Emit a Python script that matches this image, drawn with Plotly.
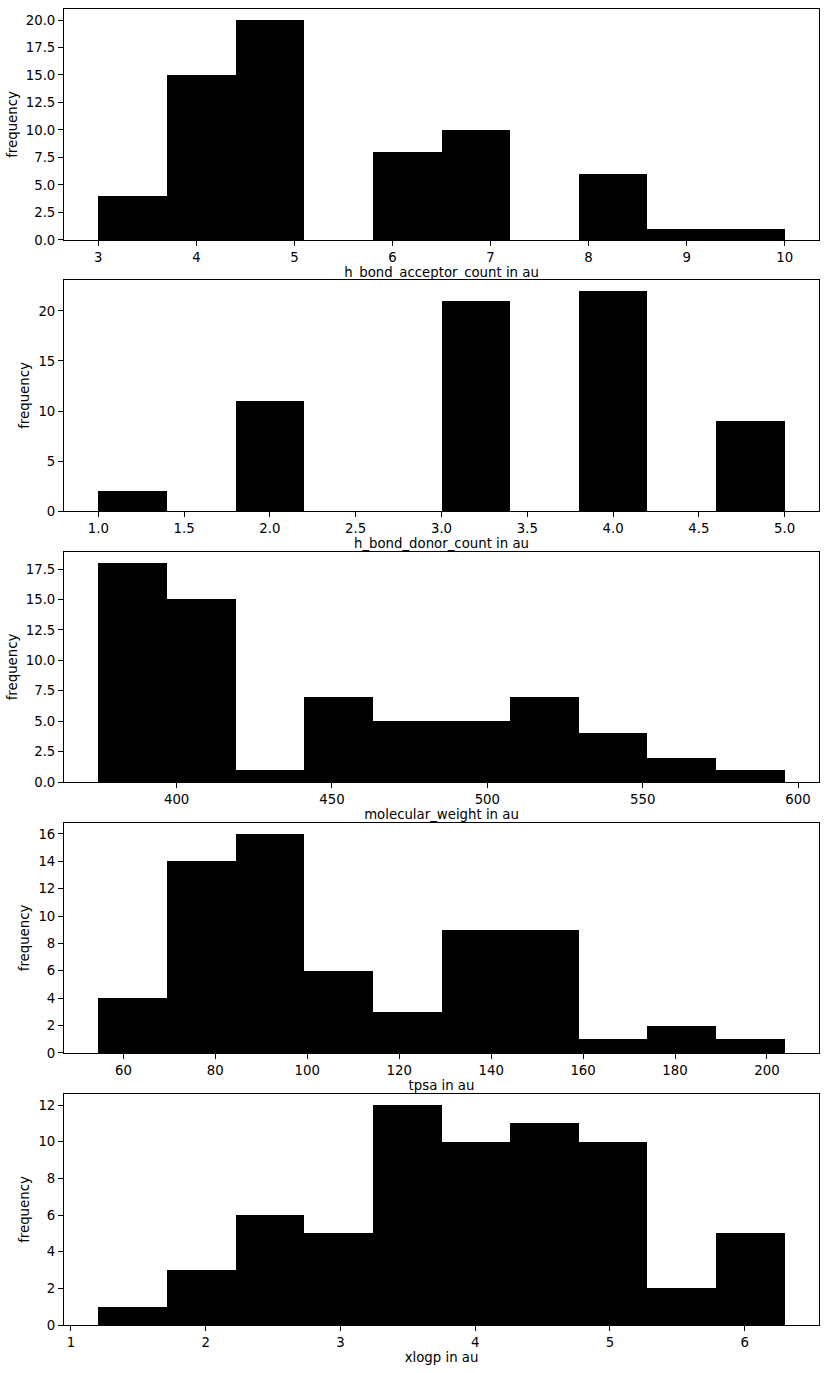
import plotly.graph_objects as go

# ---- data (10-bin histograms) ----
acceptor_range = [3.0, 10.0]
acceptor_counts = [4, 15, 20, 0, 8, 10, 0, 6, 1, 1]

donor_range = [1.0, 5.0]
donor_counts = [2, 0, 11, 0, 0, 21, 0, 22, 0, 9]

mw_range = [374.8, 595.7]
mw_counts = [18, 15, 1, 7, 5, 5, 7, 4, 2, 1]

tpsa_range = [54.55, 203.85]
tpsa_counts = [4, 14, 16, 6, 3, 9, 9, 1, 2, 1]

xlogp_range = [1.203, 6.297]
xlogp_counts = [1, 3, 6, 5, 12, 10, 11, 10, 2, 5]

x_titles = ["h_bond_acceptor_count in au", "h_bond_donor_count in au",
            "molecular_weight in au", "tpsa in au", "xlogp in au"]

panels = [
    (acceptor_range, acceptor_counts, ".1f", [3, 4, 5, 6, 7, 8, 9, 10], "", [0, 2.5, 5, 7.5, 10, 12.5, 15, 17.5, 20]),
    (donor_range, donor_counts, "", [1, 1.5, 2, 2.5, 3, 3.5, 4, 4.5, 5], ".1f", [0, 5, 10, 15, 20]),
    (mw_range, mw_counts, ".1f", [400, 450, 500, 550, 600], "", [0, 2.5, 5, 7.5, 10, 12.5, 15, 17.5]),
    (tpsa_range, tpsa_counts, "", [60, 80, 100, 120, 140, 160, 180, 200], "", [0, 2, 4, 6, 8, 10, 12, 14, 16]),
    (xlogp_range, xlogp_counts, "", [1, 2, 3, 4, 5, 6], "", [0, 2, 4, 6, 8, 10, 12]),
]

# panel vertical domains (paper fractions)
domains = [[0.8245, 1.0], [0.6185, 0.7941], [0.4126, 0.5874], [0.2067, 0.3815], [0.0, 0.1755]]

fig = go.Figure()
font = dict(family="DejaVu Sans", size=13.3, color="black")

for i, (rng, counts, yfmt, xticks, xfmt, yticks) in enumerate(panels):
    n = len(counts)
    w = (rng[1] - rng[0]) / n
    centers = [rng[0] + (k + 0.5) * w for k in range(n)]
    ax = "" if i == 0 else str(i + 1)
    fig.add_trace(go.Bar(
        x=centers, y=counts, width=[w] * n,
        marker=dict(color="black", line=dict(width=0)),
        xaxis="x" + ax, yaxis="y" + ax, showlegend=False,
        hoverinfo="x+y",
    ))
    span = rng[1] - rng[0]
    xr = [rng[0] - 0.05 * span, rng[1] + 0.05 * span]
    yr = [0, max(counts) * 1.05]
    common = dict(showline=True, linecolor="black", linewidth=1, mirror=True,
                  ticks="outside", ticklen=5, tickwidth=1, tickcolor="black",
                  showgrid=False, zeroline=False, tickfont=font)
    fig.layout["xaxis" + ax] = dict(
        domain=[0, 1], range=xr, anchor="y" + ax,
        tickvals=xticks, tickformat=xfmt if i == 1 else "",
        title=dict(text=x_titles[i], font=font, standoff=3),
        **common)
    fig.layout["yaxis" + ax] = dict(
        domain=domains[i], range=yr, anchor="x" + ax,
        tickvals=yticks, tickformat=yfmt,
        title=dict(text="frequency", font=font, standoff=5),
        **common)

fig.update_layout(
    width=828, height=1373,
    margin=dict(l=64, r=9, t=9, b=48),
    paper_bgcolor="white", plot_bgcolor="white",
    bargap=0,
    font=font,
)

fig.write_html("out.html")
